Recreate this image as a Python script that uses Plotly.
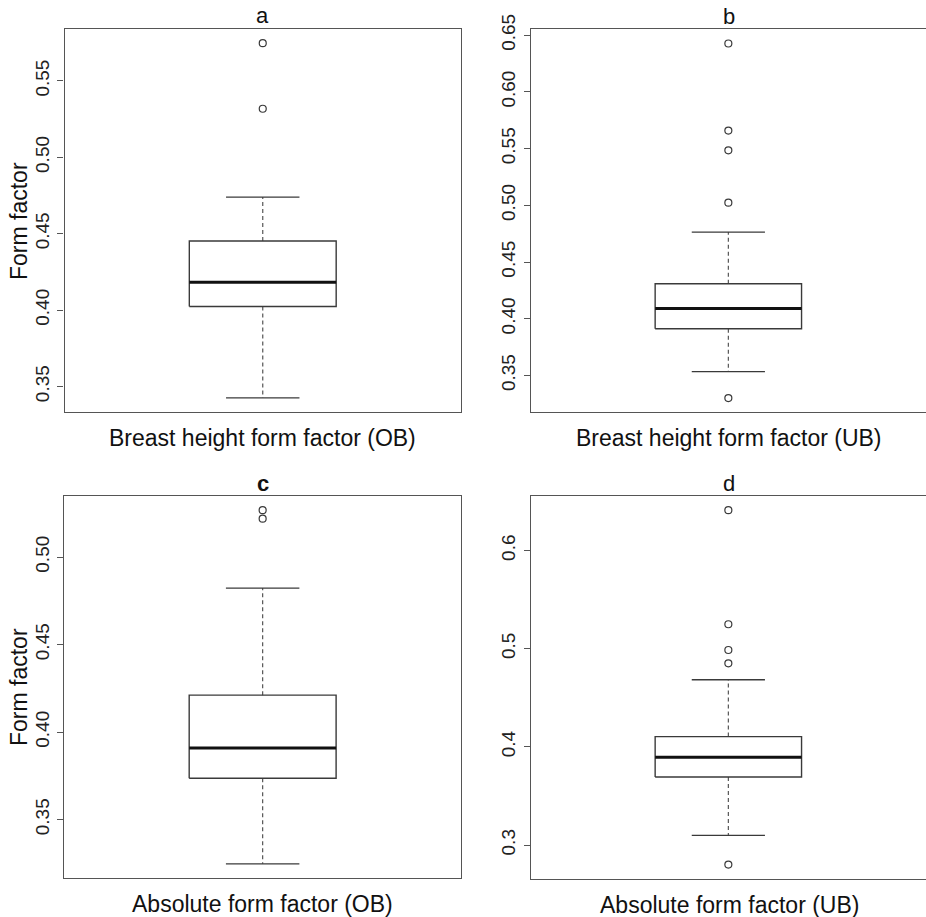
import plotly.graph_objects as go

# ---------------- data ----------------
panel_titles = ["a", "b", "c", "d"]
x_labels = ["Breast height form factor (OB)", "Breast height form factor (UB)",
            "Absolute form factor (OB)", "Absolute form factor (UB)"]

# five-number summaries: lower whisker, Q1, median, Q3, upper whisker
stats_a = [0.3426, 0.4024, 0.4182, 0.4452, 0.4740]
stats_b = [0.3533, 0.3912, 0.4091, 0.4308, 0.4764]
stats_c = [0.3247, 0.3736, 0.3909, 0.4211, 0.4823]
stats_d = [0.3098, 0.3694, 0.3895, 0.4105, 0.4684]

outliers_a = [0.5747, 0.5318]
outliers_b = [0.6427, 0.5659, 0.5485, 0.5023, 0.3300]
outliers_c = [0.5268, 0.5219]
outliers_d = [0.6411, 0.5249, 0.4987, 0.4851, 0.2802]

ticks_a = [0.35, 0.40, 0.45, 0.50, 0.55]
ticks_b = [0.35, 0.40, 0.45, 0.50, 0.55, 0.60, 0.65]
ticks_c = [0.35, 0.40, 0.45, 0.50]
ticks_d = [0.3, 0.4, 0.5, 0.6]
tick_fmt = ["{:.2f}", "{:.2f}", "{:.2f}", "{:.1f}"]

# ---------------- layout / style ----------------
W, H = 926, 917
# panel frames in pixels: (left, right, top, bottom)
frames = [(64.5, 461, 29, 412), (530.7, 927, 29.3, 412.3),
          (64.3, 461, 496, 878), (530.7, 927, 496, 878.7)]
FONT = "Liberation Sans, Arial, sans-serif"
LINE = "#3a3a3a"
FRAME = "#555555"
BOX_HALF = 0.2
CAP_HALF = 0.1

stats_all = [stats_a, stats_b, stats_c, stats_d]
outl_all = [outliers_a, outliers_b, outliers_c, outliers_d]
ticks_all = [ticks_a, ticks_b, ticks_c, ticks_d]

fig = go.Figure()
layout = dict(width=W, height=H, margin=dict(l=0, r=0, t=0, b=0, autoexpand=False),
              paper_bgcolor="white", plot_bgcolor="white", showlegend=False,
              font=dict(family=FONT, color="#222222"))
annotations = []

for i in range(4):
    n = "" if i == 0 else str(i + 1)
    xa, ya = "x" + n, "y" + n
    lw, q1, med, q3, uw = stats_all[i]
    outl = outl_all[i]
    L, R, T, B = frames[i]
    allv = [lw, uw] + outl
    lo, hi = min(allv), max(allv)
    pad = 0.04 * (hi - lo)

    # whiskers (dashed)
    fig.add_trace(go.Scatter(x=[1, 1, None, 1, 1], y=[q3, uw, None, q1, lw], mode="lines",
                             line=dict(color="#555555", width=1.2, dash="4px,3px"),
                             xaxis=xa, yaxis=ya, hoverinfo="skip"))
    # caps
    fig.add_trace(go.Scatter(x=[1 - CAP_HALF, 1 + CAP_HALF, None, 1 - CAP_HALF, 1 + CAP_HALF],
                             y=[uw, uw, None, lw, lw], mode="lines",
                             line=dict(color=LINE, width=1.3), xaxis=xa, yaxis=ya, hoverinfo="skip"))
    # box
    fig.add_trace(go.Scatter(x=[1 - BOX_HALF, 1 + BOX_HALF, 1 + BOX_HALF, 1 - BOX_HALF, 1 - BOX_HALF],
                             y=[q1, q1, q3, q3, q1], mode="lines",
                             line=dict(color=LINE, width=1.4), xaxis=xa, yaxis=ya, hoverinfo="skip"))
    # median
    fig.add_trace(go.Scatter(x=[1 - BOX_HALF, 1 + BOX_HALF], y=[med, med], mode="lines",
                             line=dict(color="#111111", width=3), xaxis=xa, yaxis=ya, hoverinfo="skip"))
    # outliers
    fig.add_trace(go.Scatter(x=[1] * len(outl), y=outl, mode="markers",
                             marker=dict(symbol="circle-open", size=7, color=LINE, line=dict(width=1.2)),
                             xaxis=xa, yaxis=ya, hoverinfo="skip"))

    xdom = [L / W, min(R / W, 1.0)]
    ydom = [1 - B / H, 1 - T / H]
    layout["xaxis" + n] = dict(domain=xdom, range=[0.46, 1.54], anchor=ya, automargin=False,
                               showgrid=False, zeroline=False, showticklabels=False, ticks="",
                               showline=True, mirror=True, linecolor=FRAME, linewidth=1.3)
    layout["yaxis" + n] = dict(domain=ydom, range=[lo - pad, hi + pad], anchor=xa, automargin=False,
                               showgrid=False, zeroline=False,
                               tickvals=ticks_all[i], ticktext=[tick_fmt[i].format(v) for v in ticks_all[i]],
                               tickangle=-90, ticks="outside", ticklen=6, tickcolor=FRAME, tickwidth=1,
                               ticklabelstandoff=1,
                               tickfont=dict(size=19, family=FONT, color="#222222"),
                               showline=True, mirror=True, linecolor=FRAME, linewidth=1.3)

    cx = (L + R) / 2 if i in (0, 2) else L + 198.5
    # panel title
    annotations.append(dict(text=("<b>%s</b>" % panel_titles[i]) if i == 2 else panel_titles[i],
                            x=cx / W, y=1 - (T - 13) / H, xref="paper", yref="paper",
                            showarrow=False, xanchor="center", yanchor="middle",
                            font=dict(size=22, family=FONT, color="#111111")))
    # x label
    annotations.append(dict(text=x_labels[i], x=cx / W, y=1 - (B + 26) / H, xref="paper", yref="paper",
                            showarrow=False, xanchor="center", yanchor="middle",
                            font=dict(size=23, family=FONT, color="#111111")))

# y-axis titles (left column only)
for (yc) in (221, 687):
    annotations.append(dict(text="Form factor", x=19 / W, y=1 - yc / H, xref="paper", yref="paper",
                            showarrow=False, textangle=-90, xanchor="center", yanchor="middle",
                            font=dict(size=23, family=FONT, color="#111111")))

layout["annotations"] = annotations
fig.update_layout(**layout)
fig.write_html("out.html")
